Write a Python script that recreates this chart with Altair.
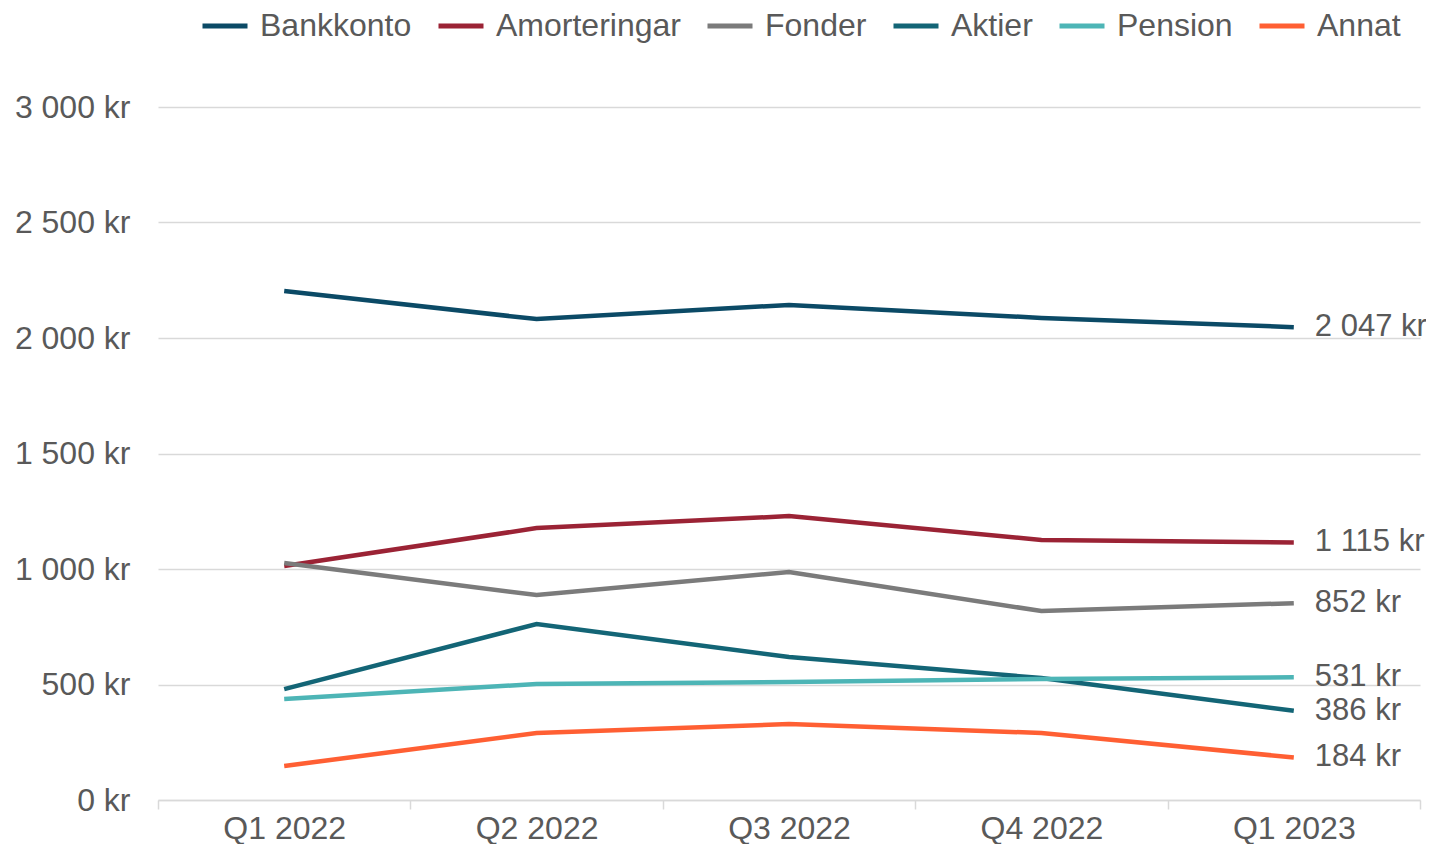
import altair as alt
import pandas as pd

quarters = ["Q1 2022", "Q2 2022", "Q3 2022", "Q4 2022", "Q1 2023"]
series = ["Bankkonto", "Amorteringar", "Fonder", "Aktier", "Pension", "Annat"]
colors = ["#0B4A66", "#9B2335", "#7B7B7B", "#136576", "#4DB5B6", "#FF5F33"]

bankkonto = [2203, 2082, 2143, 2087, 2047]
amorteringar = [1013, 1177, 1229, 1126, 1115]
fonder = [1026, 887, 987, 818, 852]
aktier = [480, 762, 619, 528, 386]
pension = [437, 502, 511, 524, 531]
annat = [147, 290, 329, 290, 184]

y_ticks = [0, 500, 1000, 1500, 2000, 2500, 3000]

values = [bankkonto, amorteringar, fonder, aktier, pension, annat]
rows = []
for s, vals in zip(series, values):
    for i, (q, v) in enumerate(zip(quarters, vals)):
        rows.append({"Kvartal": q, "Idx": i, "Typ": s, "Belopp": v})
df = pd.DataFrame(rows)

last = df[df["Kvartal"] == quarters[-1]].copy()
last["Etikett"] = last["Belopp"].apply(lambda v: f"{v:,}".replace(",", " ") + " kr")

TXT = "#595959"
FS = 32

x_enc = alt.X(
    "Kvartal:N",
    sort=quarters,
    scale=alt.Scale(type="band", paddingInner=0, paddingOuter=0),
    bandPosition=0.5,
    axis=alt.Axis(
        title=None,
        tickBand="extent",
        domainColor="#D9D9D9",
        domainWidth=1.5,
        tickColor="#D9D9D9",
        tickWidth=1.5,
        tickSize=9,
        labelPadding=4,
        labelFontSize=FS,
        labelColor=TXT,
        labelAngle=0,
        grid=False,
    ),
)
y_enc = alt.Y(
    "Belopp:Q",
    scale=alt.Scale(domain=[0, 3000], nice=False),
    axis=alt.Axis(
        title=None,
        values=y_ticks,
        labelExpr="replace(format(datum.value, ','), ',', ' ') + ' kr'",
        grid=True,
        gridColor="#D9D9D9",
        gridWidth=1.5,
        domain=False,
        ticks=False,
        labelPadding=28,
        labelFontSize=FS,
        labelColor=TXT,
    ),
)
color_enc = alt.Color(
    "Typ:N",
    sort=series,
    scale=alt.Scale(domain=series, range=colors),
    legend=alt.Legend(
        title=None,
        orient="none",
        direction="horizontal",
        legendX=42,
        legendY=-106,
        columns=6,
        symbolType="stroke",
        symbolSize=2025,
        symbolStrokeWidth=5,
        labelFontSize=FS,
        labelColor=TXT,
        labelOffset=10,
        labelLimit=0,
        columnPadding=16,
    ),
)

lines = alt.Chart(df).mark_line(strokeWidth=4.5).encode(
    x=x_enc, y=y_enc, color=color_enc, order=alt.Order("Idx:Q")
)
labels = alt.Chart(last).mark_text(
    align="left", baseline="middle", dx=21, fontSize=31, color=TXT
).encode(
    x=alt.X("Kvartal:N", sort=quarters, bandPosition=0.5),
    y=alt.Y("Belopp:Q"),
    text="Etikett:N",
)

chart = (
    alt.layer(lines, labels)
    .properties(
        width=1262,
        height=693,
        autosize=alt.AutoSizeParams(type="none"),
        padding={"left": 150, "top": 99, "right": 6, "bottom": 44},
    )
    .configure(font="Liberation Sans")
    .configure_view(stroke=None)
)

chart.save("out.html", embed_options={"renderer": "svg", "actions": False})
